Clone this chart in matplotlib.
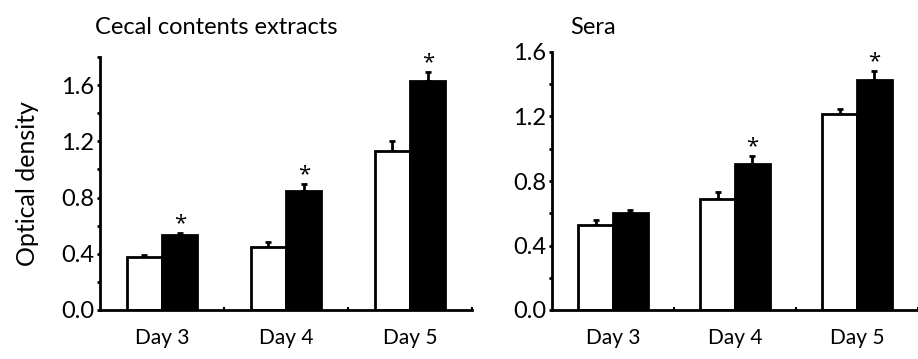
import matplotlib.pyplot as plt
import numpy as np

plt.rcParams['font.family'] = ['Lato', 'DejaVu Sans']

days = ['Day 3', 'Day 4', 'Day 5']

cecal_ctrl = [0.38, 0.45, 1.13]
cecal_ctrl_err = [0.012, 0.033, 0.07]
cecal_trt = [0.535, 0.848, 1.626]
cecal_trt_err = [0.015, 0.05, 0.065]
cecal_star = [True, True, True]

sera_ctrl = [0.53, 0.687, 1.214]
sera_ctrl_err = [0.03, 0.043, 0.032]
sera_trt = [0.599, 0.904, 1.426]
sera_trt_err = [0.022, 0.054, 0.056]
sera_star = [False, True, True]

fig = plt.figure(figsize=(9.18, 3.59), dpi=100)
W, H = 918, 359


def panel(rect, ctrl, ctrl_err, trt, trt_err, star, ymax, xmax, title, title_x):
    ax = fig.add_axes(rect)
    x = np.arange(1, len(days) + 1)
    w = 0.285
    ax.bar(x - w / 2, ctrl, w, color='white', edgecolor='black', linewidth=2, zorder=2)
    ax.bar(x + w / 2, trt, w, color='black', edgecolor='black', linewidth=2, zorder=2)
    ax.errorbar(x - w / 2, ctrl, yerr=[np.zeros(3), ctrl_err], fmt='none', ecolor='black',
                elinewidth=2, capsize=2, capthick=2, zorder=1)
    ax.errorbar(x + w / 2, trt, yerr=[np.zeros(3), trt_err], fmt='none', ecolor='black',
                elinewidth=2, capsize=2, capthick=2, zorder=1)
    for i in range(len(days)):
        if star[i]:
            ax.annotate('*', (x[i] + w / 2, trt[i] + trt_err[i]), xytext=(0, -1),
                        textcoords='offset points', ha='center', va='bottom',
                        fontsize=16, family='Open Sans')
    ax.set_xlim(0.5, xmax)
    ax.set_ylim(0, ymax)
    ax.set_yticks(np.arange(0, ymax + 0.01, 0.4))
    ax.set_yticks(np.arange(0, ymax + 0.01, 0.2), minor=True)
    ax.set_yticklabels(['%.1f' % v for v in np.arange(0, ymax + 0.01, 0.4)])
    ax.set_xticks(x)
    ax.set_xticklabels(days)
    ax.set_xticks([1.5, 2.5, 3.5], minor=True)
    ax.tick_params(axis='y', which='both', length=2, width=2, labelsize=17, pad=2)
    ax.tick_params(axis='x', which='major', length=0, labelsize=15, pad=13)
    ax.tick_params(axis='x', which='minor', length=2, width=1.5, direction='in')
    for s in ['top', 'right']:
        ax.spines[s].set_visible(False)
    for s in ['left', 'bottom']:
        ax.spines[s].set_linewidth(2)
    fig.text(title_x, 1 - 27 / H, title, fontsize=17, va='center')
    return ax


ax1 = panel([100 / W, 1 - 310 / H, 372 / W, 253 / H], cecal_ctrl, cecal_ctrl_err,
            cecal_trt, cecal_trt_err, cecal_star, 1.8, 3.5,
            'Cecal contents extracts', 95 / W)
ax1.set_ylabel('Optical density', fontsize=18, labelpad=16)

ax2 = panel([552 / W, 1 - 310 / H, 366 / W, 258 / H], sera_ctrl, sera_ctrl_err,
            sera_trt, sera_trt_err, sera_star, 1.6, 3.46,
            'Sera', 570 / W)

fig.savefig('out.png', dpi=100)
